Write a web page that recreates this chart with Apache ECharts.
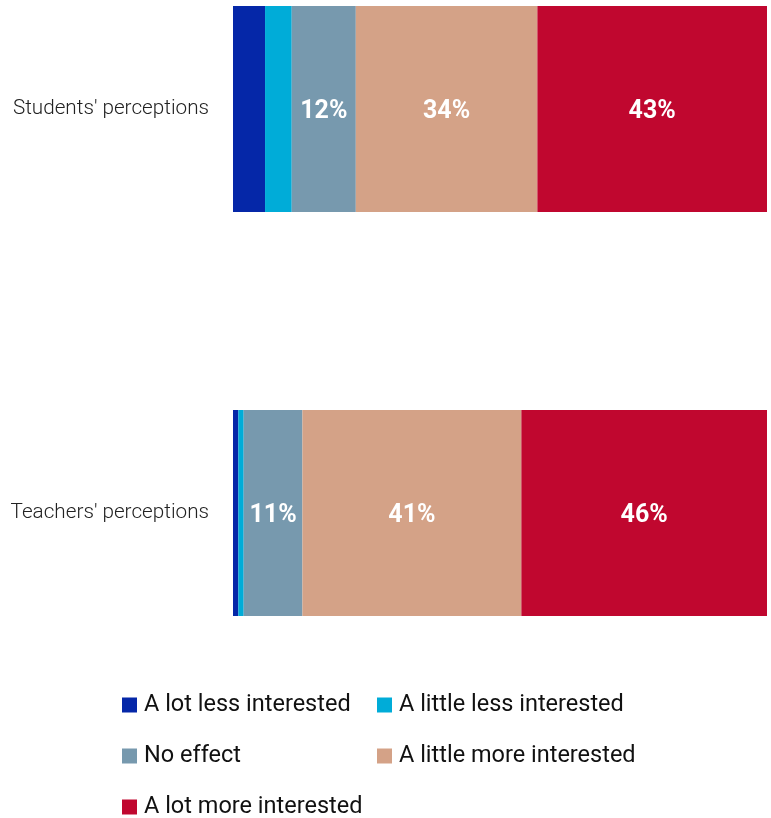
<!DOCTYPE html>
<html>
<head>
<meta charset="utf-8">
<script src="https://cdn.jsdelivr.net/npm/echarts@6/dist/echarts.min.js"></script>
<style>
  html, body { margin: 0; padding: 0; background: #fff; }
  #chart { width: 771px; height: 818px; }
</style>
</head>
<body>
<div id="chart"></div>
<script>
// Perceived effect on interest, share of respondents (%)
const categories = ["Students' perceptions", "Teachers' perceptions"];
const seriesNames = [
  'A lot less interested',
  'A little less interested',
  'No effect',
  'A little more interested',
  'A lot more interested'
];
const aLotLess = [6, 1];
const aLittleLess = [5, 1];
const noEffect = [12, 11];
const aLittleMore = [34, 41];
const aLotMore = [43, 46];
const colors = ['#0527A8', '#00ACD8', '#7799AE', '#D4A287', '#C0072F'];

const values = [aLotLess, aLittleLess, noEffect, aLittleMore, aLotMore];

const chart = echarts.init(document.getElementById('chart'), null, { renderer: 'canvas' });

const series = seriesNames.map((name, i) => ({
  name: name,
  type: 'bar',
  stack: 'total',
  barWidth: 206,
  data: values[i],
  itemStyle: { color: colors[i] },
  label: {
    show: true,
    position: 'inside',
    offset: [0, 3],
    color: '#fff',
    fontFamily: 'Roboto',
    fontWeight: 'bold',
    fontSize: 25,
    formatter: p => (p.value >= 10 ? p.value + '%' : '')
  },
  emphasis: { disabled: true }
}));

// one legend per entry so the two columns line up
const legendPos = [
  [122, 693], [377, 693],
  [122, 744], [377, 744],
  [122, 795]
];
const legends = seriesNames.map((name, i) => ({
  data: [name],
  left: legendPos[i][0],
  top: legendPos[i][1],
  itemWidth: 15,
  itemHeight: 15,
  icon: 'rect',
  selectedMode: false,
  textStyle: { fontFamily: 'Roboto', fontSize: 23.5, color: '#111', padding: [0, 0, 0, 2] },
  padding: 0
}));

chart.setOption({
  animation: false,
  legend: legends,
  // category ticks sit on the grid edges; bars are centred on them
  grid: { left: 233, right: 4, top: 109, height: 404, containLabel: false },
  xAxis: {
    type: 'value',
    min: 0,
    max: 100,
    show: false
  },
  yAxis: {
    type: 'category',
    data: categories,
    inverse: true,
    boundaryGap: false,
    axisLine: { show: false },
    axisTick: { show: false },
    splitLine: { show: false },
    axisLabel: {
      fontFamily: 'Roboto',
      fontWeight: 300,
      fontSize: 20.7,
      color: '#222',
      margin: 24,
      padding: [4, 0, 0, 0]
    }
  },
  series: series
});
</script>
</body>
</html>
